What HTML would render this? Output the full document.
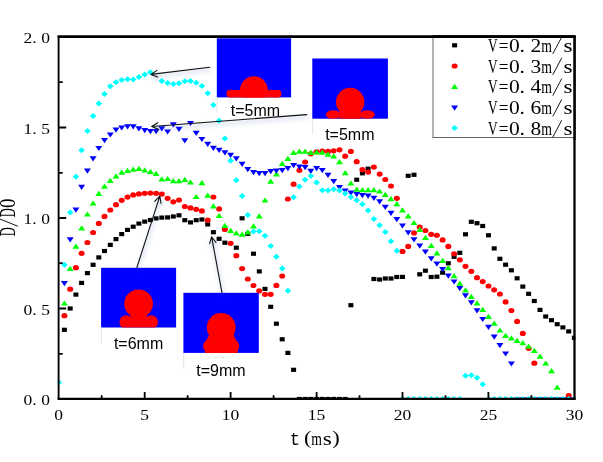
<!DOCTYPE html>
<html><head><meta charset="utf-8"><title>chart</title><style>html,body{margin:0;padding:0;background:#fff}body{width:603px;height:462px;overflow:hidden;position:relative;font-family:"Liberation Serif",serif}</style></head><body>
<svg width="603" height="462" viewBox="0 0 603 462" style="position:absolute;left:0;top:0;display:block">
<rect width="603" height="462" fill="#fff"/>
<defs><filter id="nf" filterUnits="userSpaceOnUse" x="0" y="0" width="603" height="462"><feOffset dx="0" dy="0"/></filter><filter id="sh" filterUnits="userSpaceOnUse" x="0" y="0" width="603" height="462"><feGaussianBlur stdDeviation="1.9"/></filter><clipPath id="cp"><rect x="57.7" y="35.8" width="517.6" height="363.9"/></clipPath></defs>
<g clip-path="url(#cp)">
<rect x="61.9" y="327.7" width="5" height="4.2" fill="#000"/>
<rect x="67.7" y="306.4" width="5" height="4.2" fill="#000"/>
<rect x="73.4" y="292.5" width="5" height="4.2" fill="#000"/>
<rect x="79.1" y="280.8" width="5" height="4.2" fill="#000"/>
<rect x="84.9" y="271.0" width="5" height="4.2" fill="#000"/>
<rect x="90.6" y="262.7" width="5" height="4.2" fill="#000"/>
<rect x="96.3" y="255.3" width="5" height="4.2" fill="#000"/>
<rect x="102.0" y="248.9" width="5" height="4.2" fill="#000"/>
<rect x="107.8" y="242.8" width="5" height="4.2" fill="#000"/>
<rect x="113.5" y="237.0" width="5" height="4.2" fill="#000"/>
<rect x="119.2" y="232.0" width="5" height="4.2" fill="#000"/>
<rect x="125.0" y="227.8" width="5" height="4.2" fill="#000"/>
<rect x="130.7" y="224.6" width="5" height="4.2" fill="#000"/>
<rect x="136.4" y="221.5" width="5" height="4.2" fill="#000"/>
<rect x="142.2" y="219.5" width="5" height="4.2" fill="#000"/>
<rect x="147.9" y="217.9" width="5" height="4.2" fill="#000"/>
<rect x="153.6" y="216.3" width="5" height="4.2" fill="#000"/>
<rect x="159.3" y="215.5" width="5" height="4.2" fill="#000"/>
<rect x="165.1" y="215.3" width="5" height="4.2" fill="#000"/>
<rect x="170.8" y="214.4" width="5" height="4.2" fill="#000"/>
<rect x="176.5" y="213.2" width="5" height="4.2" fill="#000"/>
<rect x="182.3" y="218.1" width="5" height="4.2" fill="#000"/>
<rect x="188.0" y="220.3" width="5" height="4.2" fill="#000"/>
<rect x="193.7" y="218.1" width="5" height="4.2" fill="#000"/>
<rect x="199.4" y="217.4" width="5" height="4.2" fill="#000"/>
<rect x="205.2" y="222.3" width="5" height="4.2" fill="#000"/>
<rect x="210.9" y="230.1" width="5" height="4.2" fill="#000"/>
<rect x="216.6" y="236.7" width="5" height="4.2" fill="#000"/>
<rect x="222.4" y="240.6" width="5" height="4.2" fill="#000"/>
<rect x="233.8" y="245.6" width="5" height="4.2" fill="#000"/>
<rect x="239.6" y="216.2" width="5" height="4.2" fill="#000"/>
<rect x="245.3" y="231.7" width="5" height="4.2" fill="#000"/>
<rect x="251.0" y="251.6" width="5" height="4.2" fill="#000"/>
<rect x="256.8" y="269.3" width="5" height="4.2" fill="#000"/>
<rect x="262.5" y="286.8" width="5" height="4.2" fill="#000"/>
<rect x="268.2" y="304.7" width="5" height="4.2" fill="#000"/>
<rect x="273.9" y="321.6" width="5" height="4.2" fill="#000"/>
<rect x="279.7" y="337.2" width="5" height="4.2" fill="#000"/>
<rect x="285.4" y="350.8" width="5" height="4.2" fill="#000"/>
<rect x="291.1" y="367.7" width="5" height="4.2" fill="#000"/>
<rect x="296.9" y="396.9" width="5" height="4.2" fill="#000"/>
<rect x="302.6" y="396.9" width="5" height="4.2" fill="#000"/>
<rect x="308.3" y="396.9" width="5" height="4.2" fill="#000"/>
<rect x="314.1" y="396.9" width="5" height="4.2" fill="#000"/>
<rect x="319.8" y="396.9" width="5" height="4.2" fill="#000"/>
<rect x="325.5" y="396.9" width="5" height="4.2" fill="#000"/>
<rect x="331.2" y="396.9" width="5" height="4.2" fill="#000"/>
<rect x="337.0" y="396.9" width="5" height="4.2" fill="#000"/>
<rect x="342.7" y="396.9" width="5" height="4.2" fill="#000"/>
<rect x="348.4" y="303.1" width="5" height="4.2" fill="#000"/>
<rect x="354.2" y="177.6" width="5" height="4.2" fill="#000"/>
<rect x="359.9" y="171.2" width="5" height="4.2" fill="#000"/>
<rect x="365.6" y="166.6" width="5" height="4.2" fill="#000"/>
<rect x="371.4" y="276.9" width="5" height="4.2" fill="#000"/>
<rect x="377.1" y="277.4" width="5" height="4.2" fill="#000"/>
<rect x="382.8" y="276.4" width="5" height="4.2" fill="#000"/>
<rect x="388.5" y="276.4" width="5" height="4.2" fill="#000"/>
<rect x="394.3" y="274.9" width="5" height="4.2" fill="#000"/>
<rect x="400.0" y="274.8" width="5" height="4.2" fill="#000"/>
<rect x="405.7" y="173.7" width="5" height="4.2" fill="#000"/>
<rect x="411.5" y="172.7" width="5" height="4.2" fill="#000"/>
<rect x="417.2" y="272.2" width="5" height="4.2" fill="#000"/>
<rect x="422.9" y="268.6" width="5" height="4.2" fill="#000"/>
<rect x="428.7" y="274.9" width="5" height="4.2" fill="#000"/>
<rect x="434.4" y="274.6" width="5" height="4.2" fill="#000"/>
<rect x="440.1" y="270.6" width="5" height="4.2" fill="#000"/>
<rect x="445.8" y="261.2" width="5" height="4.2" fill="#000"/>
<rect x="451.6" y="254.7" width="5" height="4.2" fill="#000"/>
<rect x="457.3" y="250.7" width="5" height="4.2" fill="#000"/>
<rect x="463.0" y="232.2" width="5" height="4.2" fill="#000"/>
<rect x="468.8" y="219.7" width="5" height="4.2" fill="#000"/>
<rect x="474.5" y="221.1" width="5" height="4.2" fill="#000"/>
<rect x="480.2" y="223.9" width="5" height="4.2" fill="#000"/>
<rect x="486.0" y="233.2" width="5" height="4.2" fill="#000"/>
<rect x="491.7" y="246.3" width="5" height="4.2" fill="#000"/>
<rect x="497.4" y="256.7" width="5" height="4.2" fill="#000"/>
<rect x="503.1" y="262.6" width="5" height="4.2" fill="#000"/>
<rect x="508.9" y="268.2" width="5" height="4.2" fill="#000"/>
<rect x="514.6" y="276.2" width="5" height="4.2" fill="#000"/>
<rect x="520.3" y="284.5" width="5" height="4.2" fill="#000"/>
<rect x="526.1" y="291.7" width="5" height="4.2" fill="#000"/>
<rect x="531.8" y="298.9" width="5" height="4.2" fill="#000"/>
<rect x="537.5" y="307.8" width="5" height="4.2" fill="#000"/>
<rect x="543.2" y="314.4" width="5" height="4.2" fill="#000"/>
<rect x="549.0" y="318.1" width="5" height="4.2" fill="#000"/>
<rect x="554.7" y="322.1" width="5" height="4.2" fill="#000"/>
<rect x="560.4" y="325.3" width="5" height="4.2" fill="#000"/>
<rect x="566.2" y="329.3" width="5" height="4.2" fill="#000"/>
<rect x="571.9" y="335.7" width="5" height="4.2" fill="#000"/>
<ellipse cx="64.4" cy="315.7" rx="3" ry="2.6" fill="#f00"/>
<ellipse cx="70.2" cy="289.2" rx="3" ry="2.6" fill="#f00"/>
<ellipse cx="75.9" cy="267.7" rx="3" ry="2.6" fill="#f00"/>
<ellipse cx="81.6" cy="253.4" rx="3" ry="2.6" fill="#f00"/>
<ellipse cx="87.4" cy="242.5" rx="3" ry="2.6" fill="#f00"/>
<ellipse cx="93.1" cy="232.5" rx="3" ry="2.6" fill="#f00"/>
<ellipse cx="98.8" cy="223.4" rx="3" ry="2.6" fill="#f00"/>
<ellipse cx="104.5" cy="216.4" rx="3" ry="2.6" fill="#f00"/>
<ellipse cx="110.3" cy="210.0" rx="3" ry="2.6" fill="#f00"/>
<ellipse cx="116.0" cy="204.7" rx="3" ry="2.6" fill="#f00"/>
<ellipse cx="121.7" cy="200.3" rx="3" ry="2.6" fill="#f00"/>
<ellipse cx="127.5" cy="197.1" rx="3" ry="2.6" fill="#f00"/>
<ellipse cx="133.2" cy="194.9" rx="3" ry="2.6" fill="#f00"/>
<ellipse cx="138.9" cy="193.9" rx="3" ry="2.6" fill="#f00"/>
<ellipse cx="144.7" cy="193.3" rx="3" ry="2.6" fill="#f00"/>
<ellipse cx="150.4" cy="193.1" rx="3" ry="2.6" fill="#f00"/>
<ellipse cx="156.1" cy="193.3" rx="3" ry="2.6" fill="#f00"/>
<ellipse cx="161.8" cy="194.1" rx="3" ry="2.6" fill="#f00"/>
<ellipse cx="167.6" cy="198.3" rx="3" ry="2.6" fill="#f00"/>
<ellipse cx="173.3" cy="201.8" rx="3" ry="2.6" fill="#f00"/>
<ellipse cx="179.0" cy="200.0" rx="3" ry="2.6" fill="#f00"/>
<ellipse cx="184.8" cy="206.5" rx="3" ry="2.6" fill="#f00"/>
<ellipse cx="190.5" cy="207.9" rx="3" ry="2.6" fill="#f00"/>
<ellipse cx="196.2" cy="209.3" rx="3" ry="2.6" fill="#f00"/>
<ellipse cx="201.9" cy="210.9" rx="3" ry="2.6" fill="#f00"/>
<ellipse cx="207.7" cy="220.2" rx="3" ry="2.6" fill="#f00"/>
<ellipse cx="213.4" cy="197.0" rx="3" ry="2.6" fill="#f00"/>
<ellipse cx="219.1" cy="208.9" rx="3" ry="2.6" fill="#f00"/>
<ellipse cx="224.9" cy="229.4" rx="3" ry="2.6" fill="#f00"/>
<ellipse cx="230.6" cy="243.3" rx="3" ry="2.6" fill="#f00"/>
<ellipse cx="236.3" cy="255.7" rx="3" ry="2.6" fill="#f00"/>
<ellipse cx="242.1" cy="268.6" rx="3" ry="2.6" fill="#f00"/>
<ellipse cx="247.8" cy="279.0" rx="3" ry="2.6" fill="#f00"/>
<ellipse cx="253.5" cy="285.5" rx="3" ry="2.6" fill="#f00"/>
<ellipse cx="259.2" cy="290.9" rx="3" ry="2.6" fill="#f00"/>
<ellipse cx="265.0" cy="294.3" rx="3" ry="2.6" fill="#f00"/>
<ellipse cx="270.7" cy="294.3" rx="3" ry="2.6" fill="#f00"/>
<ellipse cx="276.4" cy="285.4" rx="3" ry="2.6" fill="#f00"/>
<ellipse cx="282.2" cy="276.0" rx="3" ry="2.6" fill="#f00"/>
<ellipse cx="287.9" cy="199.0" rx="3" ry="2.6" fill="#f00"/>
<ellipse cx="293.6" cy="184.2" rx="3" ry="2.6" fill="#f00"/>
<ellipse cx="299.4" cy="170.3" rx="3" ry="2.6" fill="#f00"/>
<ellipse cx="305.1" cy="162.1" rx="3" ry="2.6" fill="#f00"/>
<ellipse cx="310.8" cy="153.8" rx="3" ry="2.6" fill="#f00"/>
<ellipse cx="316.6" cy="151.8" rx="3" ry="2.6" fill="#f00"/>
<ellipse cx="322.3" cy="151.0" rx="3" ry="2.6" fill="#f00"/>
<ellipse cx="328.0" cy="151.4" rx="3" ry="2.6" fill="#f00"/>
<ellipse cx="333.7" cy="150.8" rx="3" ry="2.6" fill="#f00"/>
<ellipse cx="339.5" cy="149.8" rx="3" ry="2.6" fill="#f00"/>
<ellipse cx="345.2" cy="156.2" rx="3" ry="2.6" fill="#f00"/>
<ellipse cx="350.9" cy="151.4" rx="3" ry="2.6" fill="#f00"/>
<ellipse cx="356.7" cy="161.7" rx="3" ry="2.6" fill="#f00"/>
<ellipse cx="362.4" cy="169.7" rx="3" ry="2.6" fill="#f00"/>
<ellipse cx="368.1" cy="172.1" rx="3" ry="2.6" fill="#f00"/>
<ellipse cx="373.9" cy="167.1" rx="3" ry="2.6" fill="#f00"/>
<ellipse cx="379.6" cy="174.1" rx="3" ry="2.6" fill="#f00"/>
<ellipse cx="385.3" cy="179.5" rx="3" ry="2.6" fill="#f00"/>
<ellipse cx="391.0" cy="186.0" rx="3" ry="2.6" fill="#f00"/>
<ellipse cx="396.8" cy="198.3" rx="3" ry="2.6" fill="#f00"/>
<ellipse cx="402.5" cy="251.4" rx="3" ry="2.6" fill="#f00"/>
<ellipse cx="408.2" cy="246.4" rx="3" ry="2.6" fill="#f00"/>
<ellipse cx="414.0" cy="232.9" rx="3" ry="2.6" fill="#f00"/>
<ellipse cx="419.7" cy="227.2" rx="3" ry="2.6" fill="#f00"/>
<ellipse cx="425.4" cy="230.5" rx="3" ry="2.6" fill="#f00"/>
<ellipse cx="431.2" cy="234.3" rx="3" ry="2.6" fill="#f00"/>
<ellipse cx="436.9" cy="235.3" rx="3" ry="2.6" fill="#f00"/>
<ellipse cx="442.6" cy="239.9" rx="3" ry="2.6" fill="#f00"/>
<ellipse cx="448.3" cy="246.4" rx="3" ry="2.6" fill="#f00"/>
<ellipse cx="454.1" cy="253.8" rx="3" ry="2.6" fill="#f00"/>
<ellipse cx="459.8" cy="259.8" rx="3" ry="2.6" fill="#f00"/>
<ellipse cx="465.5" cy="266.3" rx="3" ry="2.6" fill="#f00"/>
<ellipse cx="471.3" cy="271.3" rx="3" ry="2.6" fill="#f00"/>
<ellipse cx="477.0" cy="277.7" rx="3" ry="2.6" fill="#f00"/>
<ellipse cx="482.7" cy="281.6" rx="3" ry="2.6" fill="#f00"/>
<ellipse cx="488.5" cy="286.0" rx="3" ry="2.6" fill="#f00"/>
<ellipse cx="494.2" cy="289.8" rx="3" ry="2.6" fill="#f00"/>
<ellipse cx="499.9" cy="294.0" rx="3" ry="2.6" fill="#f00"/>
<ellipse cx="505.6" cy="301.9" rx="3" ry="2.6" fill="#f00"/>
<ellipse cx="511.4" cy="310.5" rx="3" ry="2.6" fill="#f00"/>
<ellipse cx="517.1" cy="321.4" rx="3" ry="2.6" fill="#f00"/>
<ellipse cx="522.8" cy="333.4" rx="3" ry="2.6" fill="#f00"/>
<ellipse cx="528.6" cy="348.3" rx="3" ry="2.6" fill="#f00"/>
<ellipse cx="534.3" cy="363.2" rx="3" ry="2.6" fill="#f00"/>
<ellipse cx="568.7" cy="395.7" rx="3" ry="2.6" fill="#f00"/>
<path d="M60.9 305.6L67.9 305.6L64.4 300.4Z" fill="#0f0"/>
<path d="M66.7 270.9L73.7 270.9L70.2 265.7Z" fill="#0f0"/>
<path d="M72.4 248.8L79.4 248.8L75.9 243.6Z" fill="#0f0"/>
<path d="M78.1 230.5L85.1 230.5L81.6 225.3Z" fill="#0f0"/>
<path d="M83.9 216.6L90.9 216.6L87.4 211.4Z" fill="#0f0"/>
<path d="M89.6 205.6L96.6 205.6L93.1 200.4Z" fill="#0f0"/>
<path d="M95.3 195.9L102.3 195.9L98.8 190.7Z" fill="#0f0"/>
<path d="M101.0 188.7L108.0 188.7L104.5 183.5Z" fill="#0f0"/>
<path d="M106.8 183.0L113.8 183.0L110.3 177.8Z" fill="#0f0"/>
<path d="M112.5 178.4L119.5 178.4L116.0 173.2Z" fill="#0f0"/>
<path d="M118.2 174.8L125.2 174.8L121.7 169.6Z" fill="#0f0"/>
<path d="M124.0 173.0L131.0 173.0L127.5 167.8Z" fill="#0f0"/>
<path d="M129.7 171.8L136.7 171.8L133.2 166.6Z" fill="#0f0"/>
<path d="M135.4 171.0L142.4 171.0L138.9 165.8Z" fill="#0f0"/>
<path d="M141.2 172.4L148.2 172.4L144.7 167.2Z" fill="#0f0"/>
<path d="M146.9 174.0L153.9 174.0L150.4 168.8Z" fill="#0f0"/>
<path d="M152.6 176.0L159.6 176.0L156.1 170.8Z" fill="#0f0"/>
<path d="M158.3 181.4L165.3 181.4L161.8 176.2Z" fill="#0f0"/>
<path d="M164.1 181.1L171.1 181.1L167.6 175.9Z" fill="#0f0"/>
<path d="M169.8 183.3L176.8 183.3L173.3 178.1Z" fill="#0f0"/>
<path d="M175.5 183.2L182.5 183.2L179.0 178.0Z" fill="#0f0"/>
<path d="M181.3 181.9L188.3 181.9L184.8 176.7Z" fill="#0f0"/>
<path d="M187.0 184.6L194.0 184.6L190.5 179.4Z" fill="#0f0"/>
<path d="M192.7 199.1L199.7 199.1L196.2 193.9Z" fill="#0f0"/>
<path d="M198.4 185.2L205.4 185.2L201.9 180.0Z" fill="#0f0"/>
<path d="M204.2 197.7L211.2 197.7L207.7 192.5Z" fill="#0f0"/>
<path d="M209.9 208.5L216.9 208.5L213.4 203.3Z" fill="#0f0"/>
<path d="M215.6 218.1L222.6 218.1L219.1 212.9Z" fill="#0f0"/>
<path d="M221.4 228.0L228.4 228.0L224.9 222.8Z" fill="#0f0"/>
<path d="M227.1 233.0L234.1 233.0L230.6 227.8Z" fill="#0f0"/>
<path d="M232.8 235.4L239.8 235.4L236.3 230.2Z" fill="#0f0"/>
<path d="M238.6 236.8L245.6 236.8L242.1 231.6Z" fill="#0f0"/>
<path d="M244.3 234.4L251.3 234.4L247.8 229.2Z" fill="#0f0"/>
<path d="M250.0 228.4L257.0 228.4L253.5 223.2Z" fill="#0f0"/>
<path d="M255.8 218.5L262.8 218.5L259.2 213.3Z" fill="#0f0"/>
<path d="M261.5 202.6L268.5 202.6L265.0 197.4Z" fill="#0f0"/>
<path d="M267.2 183.8L274.2 183.8L270.7 178.6Z" fill="#0f0"/>
<path d="M272.9 176.4L279.9 176.4L276.4 171.2Z" fill="#0f0"/>
<path d="M278.7 165.9L285.7 165.9L282.2 160.7Z" fill="#0f0"/>
<path d="M284.4 161.0L291.4 161.0L287.9 155.8Z" fill="#0f0"/>
<path d="M290.1 155.0L297.1 155.0L293.6 149.8Z" fill="#0f0"/>
<path d="M295.9 153.8L302.9 153.8L299.4 148.6Z" fill="#0f0"/>
<path d="M301.6 153.8L308.6 153.8L305.1 148.6Z" fill="#0f0"/>
<path d="M307.3 155.0L314.3 155.0L310.8 149.8Z" fill="#0f0"/>
<path d="M313.1 154.4L320.1 154.4L316.6 149.2Z" fill="#0f0"/>
<path d="M318.8 154.8L325.8 154.8L322.3 149.6Z" fill="#0f0"/>
<path d="M324.5 156.8L331.5 156.8L328.0 151.6Z" fill="#0f0"/>
<path d="M330.2 158.4L337.2 158.4L333.7 153.2Z" fill="#0f0"/>
<path d="M336.0 164.3L343.0 164.3L339.5 159.1Z" fill="#0f0"/>
<path d="M341.7 175.3L348.7 175.3L345.2 170.1Z" fill="#0f0"/>
<path d="M347.4 185.6L354.4 185.6L350.9 180.4Z" fill="#0f0"/>
<path d="M353.2 191.8L360.2 191.8L356.7 186.6Z" fill="#0f0"/>
<path d="M358.9 192.2L365.9 192.2L362.4 187.0Z" fill="#0f0"/>
<path d="M364.6 192.2L371.6 192.2L368.1 187.0Z" fill="#0f0"/>
<path d="M370.4 192.2L377.4 192.2L373.9 187.0Z" fill="#0f0"/>
<path d="M376.1 193.6L383.1 193.6L379.6 188.4Z" fill="#0f0"/>
<path d="M381.8 197.0L388.8 197.0L385.3 191.8Z" fill="#0f0"/>
<path d="M387.5 201.3L394.5 201.3L391.0 196.1Z" fill="#0f0"/>
<path d="M393.3 206.3L400.3 206.3L396.8 201.1Z" fill="#0f0"/>
<path d="M399.0 212.4L406.0 212.4L402.5 207.2Z" fill="#0f0"/>
<path d="M404.7 218.4L411.7 218.4L408.2 213.2Z" fill="#0f0"/>
<path d="M410.5 225.1L417.5 225.1L414.0 219.9Z" fill="#0f0"/>
<path d="M416.2 231.9L423.2 231.9L419.7 226.7Z" fill="#0f0"/>
<path d="M421.9 239.9L428.9 239.9L425.4 234.7Z" fill="#0f0"/>
<path d="M427.7 248.0L434.7 248.0L431.2 242.8Z" fill="#0f0"/>
<path d="M433.4 255.4L440.4 255.4L436.9 250.2Z" fill="#0f0"/>
<path d="M439.1 262.9L446.1 262.9L442.6 257.7Z" fill="#0f0"/>
<path d="M444.8 270.3L451.8 270.3L448.3 265.1Z" fill="#0f0"/>
<path d="M450.6 278.3L457.6 278.3L454.1 273.1Z" fill="#0f0"/>
<path d="M456.3 285.8L463.3 285.8L459.8 280.6Z" fill="#0f0"/>
<path d="M462.0 292.4L469.0 292.4L465.5 287.2Z" fill="#0f0"/>
<path d="M467.8 299.0L474.8 299.0L471.3 293.8Z" fill="#0f0"/>
<path d="M473.5 305.5L480.5 305.5L477.0 300.3Z" fill="#0f0"/>
<path d="M479.2 311.9L486.2 311.9L482.7 306.7Z" fill="#0f0"/>
<path d="M485.0 318.9L492.0 318.9L488.5 313.7Z" fill="#0f0"/>
<path d="M490.7 325.8L497.7 325.8L494.2 320.6Z" fill="#0f0"/>
<path d="M496.4 332.6L503.4 332.6L499.9 327.4Z" fill="#0f0"/>
<path d="M502.1 338.0L509.1 338.0L505.6 332.8Z" fill="#0f0"/>
<path d="M507.9 340.4L514.9 340.4L511.4 335.2Z" fill="#0f0"/>
<path d="M513.6 342.9L520.6 342.9L517.1 337.7Z" fill="#0f0"/>
<path d="M519.3 345.3L526.3 345.3L522.8 340.1Z" fill="#0f0"/>
<path d="M525.1 348.7L532.1 348.7L528.6 343.5Z" fill="#0f0"/>
<path d="M530.8 352.9L537.8 352.9L534.3 347.7Z" fill="#0f0"/>
<path d="M536.5 358.7L543.5 358.7L540.0 353.5Z" fill="#0f0"/>
<path d="M542.2 365.6L549.2 365.6L545.8 360.4Z" fill="#0f0"/>
<path d="M548.0 373.2L555.0 373.2L551.5 368.0Z" fill="#0f0"/>
<path d="M553.7 389.8L560.7 389.8L557.2 384.6Z" fill="#0f0"/>
<path d="M559.4 401.6L566.4 401.6L562.9 396.4Z" fill="#0f0"/>
<path d="M565.2 401.6L572.2 401.6L568.7 396.4Z" fill="#0f0"/>
<path d="M570.9 401.6L577.9 401.6L574.4 396.4Z" fill="#0f0"/>
<path d="M60.9 281.1L67.9 281.1L64.4 286.3Z" fill="#00f"/>
<path d="M66.7 237.3L73.7 237.3L70.2 242.5Z" fill="#00f"/>
<path d="M72.4 207.6L79.4 207.6L75.9 212.8Z" fill="#00f"/>
<path d="M78.1 184.7L85.1 184.7L81.6 189.9Z" fill="#00f"/>
<path d="M83.9 168.6L90.9 168.6L87.4 173.8Z" fill="#00f"/>
<path d="M89.6 156.3L96.6 156.3L93.1 161.5Z" fill="#00f"/>
<path d="M95.3 145.9L102.3 145.9L98.8 151.1Z" fill="#00f"/>
<path d="M101.0 138.0L108.0 138.0L104.5 143.2Z" fill="#00f"/>
<path d="M106.8 132.4L113.8 132.4L110.3 137.6Z" fill="#00f"/>
<path d="M112.5 127.6L119.5 127.6L116.0 132.8Z" fill="#00f"/>
<path d="M118.2 125.4L125.2 125.4L121.7 130.6Z" fill="#00f"/>
<path d="M124.0 124.2L131.0 124.2L127.5 129.4Z" fill="#00f"/>
<path d="M129.7 124.2L136.7 124.2L133.2 129.4Z" fill="#00f"/>
<path d="M135.4 126.2L142.4 126.2L138.9 131.4Z" fill="#00f"/>
<path d="M141.2 128.0L148.2 128.0L144.7 133.2Z" fill="#00f"/>
<path d="M146.9 129.0L153.9 129.0L150.4 134.2Z" fill="#00f"/>
<path d="M152.6 129.0L159.6 129.0L156.1 134.2Z" fill="#00f"/>
<path d="M158.3 126.2L165.3 126.2L161.8 131.4Z" fill="#00f"/>
<path d="M164.1 129.4L171.1 129.4L167.6 134.6Z" fill="#00f"/>
<path d="M169.8 122.2L176.8 122.2L173.3 127.4Z" fill="#00f"/>
<path d="M175.5 126.7L182.5 126.7L179.0 131.9Z" fill="#00f"/>
<path d="M181.3 138.2L188.3 138.2L184.8 143.4Z" fill="#00f"/>
<path d="M187.0 120.9L194.0 120.9L190.5 126.1Z" fill="#00f"/>
<path d="M192.7 130.7L199.7 130.7L196.2 135.9Z" fill="#00f"/>
<path d="M198.4 136.9L205.4 136.9L201.9 142.1Z" fill="#00f"/>
<path d="M204.2 141.8L211.2 141.8L207.7 147.0Z" fill="#00f"/>
<path d="M209.9 145.8L216.9 145.8L213.4 151.0Z" fill="#00f"/>
<path d="M215.6 147.8L222.6 147.8L219.1 153.0Z" fill="#00f"/>
<path d="M221.4 150.2L228.4 150.2L224.9 155.4Z" fill="#00f"/>
<path d="M227.1 152.8L234.1 152.8L230.6 158.0Z" fill="#00f"/>
<path d="M232.8 156.2L239.8 156.2L236.3 161.4Z" fill="#00f"/>
<path d="M238.6 161.7L245.6 161.7L242.1 166.9Z" fill="#00f"/>
<path d="M244.3 167.1L251.3 167.1L247.8 172.3Z" fill="#00f"/>
<path d="M250.0 170.1L257.0 170.1L253.5 175.3Z" fill="#00f"/>
<path d="M255.8 171.1L262.8 171.1L259.2 176.3Z" fill="#00f"/>
<path d="M261.5 171.1L268.5 171.1L265.0 176.3Z" fill="#00f"/>
<path d="M267.2 169.1L274.2 169.1L270.7 174.3Z" fill="#00f"/>
<path d="M272.9 168.5L279.9 168.5L276.4 173.7Z" fill="#00f"/>
<path d="M278.7 168.1L285.7 168.1L282.2 173.3Z" fill="#00f"/>
<path d="M284.4 166.1L291.4 166.1L287.9 171.3Z" fill="#00f"/>
<path d="M290.1 163.1L297.1 163.1L293.6 168.3Z" fill="#00f"/>
<path d="M295.9 164.5L302.9 164.5L299.4 169.7Z" fill="#00f"/>
<path d="M301.6 165.1L308.6 165.1L305.1 170.3Z" fill="#00f"/>
<path d="M307.3 168.7L314.3 168.7L310.8 173.9Z" fill="#00f"/>
<path d="M313.1 166.1L320.1 166.1L316.6 171.3Z" fill="#00f"/>
<path d="M318.8 168.1L325.8 168.1L322.3 173.3Z" fill="#00f"/>
<path d="M324.5 172.7L331.5 172.7L328.0 177.9Z" fill="#00f"/>
<path d="M330.2 179.0L337.2 179.0L333.7 184.2Z" fill="#00f"/>
<path d="M336.0 185.0L343.0 185.0L339.5 190.2Z" fill="#00f"/>
<path d="M341.7 188.4L348.7 188.4L345.2 193.6Z" fill="#00f"/>
<path d="M347.4 190.6L354.4 190.6L350.9 195.8Z" fill="#00f"/>
<path d="M353.2 192.0L360.2 192.0L356.7 197.2Z" fill="#00f"/>
<path d="M358.9 193.0L365.9 193.0L362.4 198.2Z" fill="#00f"/>
<path d="M364.6 193.6L371.6 193.6L368.1 198.8Z" fill="#00f"/>
<path d="M370.4 195.7L377.4 195.7L373.9 200.9Z" fill="#00f"/>
<path d="M376.1 199.3L383.1 199.3L379.6 204.5Z" fill="#00f"/>
<path d="M381.8 204.7L388.8 204.7L385.3 209.9Z" fill="#00f"/>
<path d="M387.5 210.7L394.5 210.7L391.0 215.9Z" fill="#00f"/>
<path d="M393.3 217.1L400.3 217.1L396.8 222.3Z" fill="#00f"/>
<path d="M399.0 223.4L406.0 223.4L402.5 228.6Z" fill="#00f"/>
<path d="M404.7 230.3L411.7 230.3L408.2 235.5Z" fill="#00f"/>
<path d="M410.5 237.3L417.5 237.3L414.0 242.5Z" fill="#00f"/>
<path d="M416.2 243.6L423.2 243.6L419.7 248.8Z" fill="#00f"/>
<path d="M421.9 249.6L428.9 249.6L425.4 254.8Z" fill="#00f"/>
<path d="M427.7 256.2L434.7 256.2L431.2 261.4Z" fill="#00f"/>
<path d="M433.4 261.5L440.4 261.5L436.9 266.7Z" fill="#00f"/>
<path d="M439.1 267.1L446.1 267.1L442.6 272.3Z" fill="#00f"/>
<path d="M444.8 273.5L451.8 273.5L448.3 278.7Z" fill="#00f"/>
<path d="M450.6 279.4L457.6 279.4L454.1 284.6Z" fill="#00f"/>
<path d="M456.3 286.0L463.3 286.0L459.8 291.2Z" fill="#00f"/>
<path d="M462.0 293.2L469.0 293.2L465.5 298.4Z" fill="#00f"/>
<path d="M467.8 300.3L474.8 300.3L471.3 305.5Z" fill="#00f"/>
<path d="M473.5 308.3L480.5 308.3L477.0 313.5Z" fill="#00f"/>
<path d="M479.2 316.9L486.2 316.9L482.7 322.1Z" fill="#00f"/>
<path d="M485.0 324.8L492.0 324.8L488.5 330.0Z" fill="#00f"/>
<path d="M490.7 334.6L497.7 334.6L494.2 339.8Z" fill="#00f"/>
<path d="M496.4 343.1L503.4 343.1L499.9 348.3Z" fill="#00f"/>
<path d="M502.1 351.4L509.1 351.4L505.6 356.6Z" fill="#00f"/>
<path d="M507.9 361.4L514.9 361.4L511.4 366.6Z" fill="#00f"/>
<path d="M513.6 397.4L520.6 397.4L517.1 402.6Z" fill="#00f"/>
<path d="M519.3 397.4L526.3 397.4L522.8 402.6Z" fill="#00f"/>
<path d="M525.1 397.4L532.1 397.4L528.6 402.6Z" fill="#00f"/>
<path d="M530.8 397.4L537.8 397.4L534.3 402.6Z" fill="#00f"/>
<path d="M536.5 397.4L543.5 397.4L540.0 402.6Z" fill="#00f"/>
<path d="M542.2 397.4L549.2 397.4L545.8 402.6Z" fill="#00f"/>
<path d="M548.0 397.4L555.0 397.4L551.5 402.6Z" fill="#00f"/>
<path d="M553.7 397.4L560.7 397.4L557.2 402.6Z" fill="#00f"/>
<path d="M559.4 397.4L566.4 397.4L562.9 402.6Z" fill="#00f"/>
<path d="M565.2 397.4L572.2 397.4L568.7 402.6Z" fill="#00f"/>
<path d="M570.9 397.4L577.9 397.4L574.4 402.6Z" fill="#00f"/>
<path d="M55.4 382.6L58.7 379.6L62.0 382.6L58.7 385.6Z" fill="#0ff"/>
<path d="M61.1 264.8L64.4 261.8L67.7 264.8L64.4 267.8Z" fill="#0ff"/>
<path d="M66.9 212.6L70.2 209.6L73.5 212.6L70.2 215.6Z" fill="#0ff"/>
<path d="M72.6 176.8L75.9 173.8L79.2 176.8L75.9 179.8Z" fill="#0ff"/>
<path d="M78.3 150.3L81.6 147.3L84.9 150.3L81.6 153.3Z" fill="#0ff"/>
<path d="M84.1 131.0L87.4 128.0L90.7 131.0L87.4 134.0Z" fill="#0ff"/>
<path d="M89.8 116.0L93.1 113.0L96.4 116.0L93.1 119.0Z" fill="#0ff"/>
<path d="M95.5 103.4L98.8 100.4L102.1 103.4L98.8 106.4Z" fill="#0ff"/>
<path d="M101.2 94.0L104.5 91.0L107.8 94.0L104.5 97.0Z" fill="#0ff"/>
<path d="M107.0 86.2L110.3 83.2L113.6 86.2L110.3 89.2Z" fill="#0ff"/>
<path d="M112.7 82.3L116.0 79.3L119.3 82.3L116.0 85.3Z" fill="#0ff"/>
<path d="M118.4 79.9L121.7 76.9L125.0 79.9L121.7 82.9Z" fill="#0ff"/>
<path d="M124.2 79.3L127.5 76.3L130.8 79.3L127.5 82.3Z" fill="#0ff"/>
<path d="M129.9 79.5L133.2 76.5L136.5 79.5L133.2 82.5Z" fill="#0ff"/>
<path d="M135.6 77.1L138.9 74.1L142.2 77.1L138.9 80.1Z" fill="#0ff"/>
<path d="M141.3 74.5L144.7 71.5L148.0 74.5L144.7 77.5Z" fill="#0ff"/>
<path d="M147.1 72.3L150.4 69.3L153.7 72.3L150.4 75.3Z" fill="#0ff"/>
<path d="M158.5 80.9L161.8 77.9L165.1 80.9L161.8 83.9Z" fill="#0ff"/>
<path d="M164.3 83.0L167.6 80.0L170.9 83.0L167.6 86.0Z" fill="#0ff"/>
<path d="M170.0 84.0L173.3 81.0L176.6 84.0L173.3 87.0Z" fill="#0ff"/>
<path d="M175.7 83.3L179.0 80.3L182.3 83.3L179.0 86.3Z" fill="#0ff"/>
<path d="M181.5 81.3L184.8 78.3L188.1 81.3L184.8 84.3Z" fill="#0ff"/>
<path d="M187.2 81.1L190.5 78.1L193.8 81.1L190.5 84.1Z" fill="#0ff"/>
<path d="M192.9 82.7L196.2 79.7L199.5 82.7L196.2 85.7Z" fill="#0ff"/>
<path d="M198.6 86.1L201.9 83.1L205.2 86.1L201.9 89.1Z" fill="#0ff"/>
<path d="M204.4 93.3L207.7 90.3L211.0 93.3L207.7 96.3Z" fill="#0ff"/>
<path d="M210.1 105.0L213.4 102.0L216.7 105.0L213.4 108.0Z" fill="#0ff"/>
<path d="M215.8 120.7L219.1 117.7L222.4 120.7L219.1 123.7Z" fill="#0ff"/>
<path d="M221.6 138.5L224.9 135.5L228.2 138.5L224.9 141.5Z" fill="#0ff"/>
<path d="M227.3 160.7L230.6 157.7L233.9 160.7L230.6 163.7Z" fill="#0ff"/>
<path d="M233.0 180.2L236.3 177.2L239.6 180.2L236.3 183.2Z" fill="#0ff"/>
<path d="M238.8 196.1L242.1 193.1L245.4 196.1L242.1 199.1Z" fill="#0ff"/>
<path d="M244.5 214.9L247.8 211.9L251.1 214.9L247.8 217.9Z" fill="#0ff"/>
<path d="M250.2 231.4L253.5 228.4L256.8 231.4L253.5 234.4Z" fill="#0ff"/>
<path d="M255.9 231.2L259.2 228.2L262.6 231.2L259.2 234.2Z" fill="#0ff"/>
<path d="M261.7 235.8L265.0 232.8L268.3 235.8L265.0 238.8Z" fill="#0ff"/>
<path d="M267.4 246.1L270.7 243.1L274.0 246.1L270.7 249.1Z" fill="#0ff"/>
<path d="M273.1 256.7L276.4 253.7L279.7 256.7L276.4 259.7Z" fill="#0ff"/>
<path d="M278.9 268.6L282.2 265.6L285.5 268.6L282.2 271.6Z" fill="#0ff"/>
<path d="M284.6 290.8L287.9 287.8L291.2 290.8L287.9 293.8Z" fill="#0ff"/>
<path d="M290.3 197.3L293.6 194.3L296.9 197.3L293.6 200.3Z" fill="#0ff"/>
<path d="M296.1 186.6L299.4 183.6L302.7 186.6L299.4 189.6Z" fill="#0ff"/>
<path d="M301.8 179.7L305.1 176.7L308.4 179.7L305.1 182.7Z" fill="#0ff"/>
<path d="M307.5 176.1L310.8 173.1L314.1 176.1L310.8 179.1Z" fill="#0ff"/>
<path d="M313.2 182.6L316.6 179.6L319.9 182.6L316.6 185.6Z" fill="#0ff"/>
<path d="M319.0 190.2L322.3 187.2L325.6 190.2L322.3 193.2Z" fill="#0ff"/>
<path d="M324.7 190.6L328.0 187.6L331.3 190.6L328.0 193.6Z" fill="#0ff"/>
<path d="M330.4 189.2L333.7 186.2L337.0 189.2L333.7 192.2Z" fill="#0ff"/>
<path d="M336.2 190.6L339.5 187.6L342.8 190.6L339.5 193.6Z" fill="#0ff"/>
<path d="M341.9 193.6L345.2 190.6L348.5 193.6L345.2 196.6Z" fill="#0ff"/>
<path d="M347.6 197.0L350.9 194.0L354.2 197.0L350.9 200.0Z" fill="#0ff"/>
<path d="M353.4 200.3L356.7 197.3L360.0 200.3L356.7 203.3Z" fill="#0ff"/>
<path d="M359.1 204.3L362.4 201.3L365.7 204.3L362.4 207.3Z" fill="#0ff"/>
<path d="M364.8 210.5L368.1 207.5L371.4 210.5L368.1 213.5Z" fill="#0ff"/>
<path d="M370.6 218.9L373.9 215.9L377.2 218.9L373.9 221.9Z" fill="#0ff"/>
<path d="M376.3 225.2L379.6 222.2L382.9 225.2L379.6 228.2Z" fill="#0ff"/>
<path d="M382.0 232.0L385.3 229.0L388.6 232.0L385.3 235.0Z" fill="#0ff"/>
<path d="M387.7 241.2L391.0 238.2L394.3 241.2L391.0 244.2Z" fill="#0ff"/>
<path d="M393.5 250.8L396.8 247.8L400.1 250.8L396.8 253.8Z" fill="#0ff"/>
<path d="M399.2 398.9L402.5 395.9L405.8 398.9L402.5 401.9Z" fill="#0ff"/>
<path d="M404.9 398.9L408.2 395.9L411.5 398.9L408.2 401.9Z" fill="#0ff"/>
<path d="M410.7 398.9L414.0 395.9L417.3 398.9L414.0 401.9Z" fill="#0ff"/>
<path d="M416.4 398.9L419.7 395.9L423.0 398.9L419.7 401.9Z" fill="#0ff"/>
<path d="M422.1 398.9L425.4 395.9L428.7 398.9L425.4 401.9Z" fill="#0ff"/>
<path d="M427.9 398.9L431.2 395.9L434.5 398.9L431.2 401.9Z" fill="#0ff"/>
<path d="M433.6 398.9L436.9 395.9L440.2 398.9L436.9 401.9Z" fill="#0ff"/>
<path d="M439.3 398.9L442.6 395.9L445.9 398.9L442.6 401.9Z" fill="#0ff"/>
<path d="M445.0 398.9L448.3 395.9L451.6 398.9L448.3 401.9Z" fill="#0ff"/>
<path d="M450.8 398.9L454.1 395.9L457.4 398.9L454.1 401.9Z" fill="#0ff"/>
<path d="M456.5 398.9L459.8 395.9L463.1 398.9L459.8 401.9Z" fill="#0ff"/>
<path d="M462.2 375.7L465.5 372.7L468.8 375.7L465.5 378.7Z" fill="#0ff"/>
<path d="M468.0 375.3L471.3 372.3L474.6 375.3L471.3 378.3Z" fill="#0ff"/>
<path d="M473.7 377.8L477.0 374.8L480.3 377.8L477.0 380.8Z" fill="#0ff"/>
<path d="M479.4 384.2L482.7 381.2L486.0 384.2L482.7 387.2Z" fill="#0ff"/>
<path d="M485.2 398.9L488.5 395.9L491.8 398.9L488.5 401.9Z" fill="#0ff"/>
<path d="M490.9 398.9L494.2 395.9L497.5 398.9L494.2 401.9Z" fill="#0ff"/>
<path d="M496.6 398.9L499.9 395.9L503.2 398.9L499.9 401.9Z" fill="#0ff"/>
<path d="M502.3 398.9L505.6 395.9L508.9 398.9L505.6 401.9Z" fill="#0ff"/>
<path d="M508.1 398.9L511.4 395.9L514.7 398.9L511.4 401.9Z" fill="#0ff"/>
<path d="M513.8 398.9L517.1 395.9L520.4 398.9L517.1 401.9Z" fill="#0ff"/>
<path d="M519.5 398.9L522.8 395.9L526.1 398.9L522.8 401.9Z" fill="#0ff"/>
<path d="M525.3 398.9L528.6 395.9L531.9 398.9L528.6 401.9Z" fill="#0ff"/>
<path d="M531.0 398.9L534.3 395.9L537.6 398.9L534.3 401.9Z" fill="#0ff"/>
<path d="M536.7 398.9L540.0 395.9L543.3 398.9L540.0 401.9Z" fill="#0ff"/>
<path d="M542.5 398.9L545.8 395.9L549.0 398.9L545.8 401.9Z" fill="#0ff"/>
<path d="M548.2 398.9L551.5 395.9L554.8 398.9L551.5 401.9Z" fill="#0ff"/>
<path d="M553.9 398.9L557.2 395.9L560.5 398.9L557.2 401.9Z" fill="#0ff"/>
<path d="M559.6 398.9L562.9 395.9L566.2 398.9L562.9 401.9Z" fill="#0ff"/>
<path d="M565.4 398.9L568.7 395.9L572.0 398.9L568.7 401.9Z" fill="#0ff"/>
<path d="M571.1 398.9L574.4 395.9L577.7 398.9L574.4 401.9Z" fill="#0ff"/>
</g>
<rect x="101.1" y="267.8" width="75.0" height="59.7" fill="#0000fe"/>
<clipPath id="c101"><rect x="101.1" y="267.8" width="75.0" height="59.7"/></clipPath>
<g clip-path="url(#c101)" fill="#fe0000"><circle cx="138.6" cy="303.7" r="14.3"/><circle cx="126.2" cy="322" r="6.8"/><circle cx="151.2" cy="322" r="6.8"/><rect x="130.5" y="312" width="16.4" height="16"/></g>
<rect x="183.4" y="292.8" width="75.4" height="60.1" fill="#0000fe"/>
<clipPath id="c183"><rect x="183.4" y="292.8" width="75.4" height="60.1"/></clipPath>
<g clip-path="url(#c183)" fill="#fe0000"><circle cx="221.2" cy="327.5" r="14.4"/><circle cx="210.2" cy="346.3" r="7"/><circle cx="232.2" cy="346.3" r="7"/><path d="M209.6 334L233.1 334L236.1 340L237.5 343L237.5 353L205 353L205 343L206.5 340Z"/></g>
<rect x="216.8" y="38.3" width="74.3" height="59.1" fill="#0000fe"/>
<clipPath id="c216"><rect x="216.8" y="38.3" width="74.3" height="59.1"/></clipPath>
<g clip-path="url(#c216)" fill="#fe0000"><circle cx="253.9" cy="90.3" r="14"/><circle cx="230.5" cy="93.8" r="4.1"/><circle cx="277.3" cy="93.8" r="4.1"/><rect x="230.5" y="90.2" width="46.8" height="8"/><circle cx="236.5" cy="92.3" r="2.5"/><circle cx="271.5" cy="92.3" r="2.5"/></g>
<rect x="312.3" y="58.5" width="75.6" height="60.2" fill="#0000fe"/>
<clipPath id="c312"><rect x="312.3" y="58.5" width="75.6" height="60.2"/></clipPath>
<g clip-path="url(#c312)" fill="#fe0000"><circle cx="350.2" cy="102" r="14.2"/><ellipse cx="333.2" cy="114.6" rx="7.4" ry="4.4"/><ellipse cx="367.3" cy="114.6" rx="7.4" ry="4.4"/><rect x="339.5" y="108" width="21.4" height="11"/></g>
<g fill="#999" opacity="0.6"><rect x="208.7" y="357.4" width="1" height="1"/><rect x="215.2" y="357" width="1.4" height="1"/><rect x="222" y="357" width="1.4" height="1"/></g>
<path d="M101.4 327.5v15.5M183.7 353v15.5M312.7 118.8v15.5M217.1 97.5v15.5" stroke="#e4e4e4" stroke-width="1" fill="none"/>
<g filter="url(#nf)">
<text x="138.6" y="348.7" font-family="Liberation Sans, sans-serif" font-size="16" text-anchor="middle" fill="#000">t=6mm</text>
<text x="221" y="376.4" font-family="Liberation Sans, sans-serif" font-size="16" text-anchor="middle" fill="#000">t=9mm</text>
<text x="255.5" y="115.6" font-family="Liberation Sans, sans-serif" font-size="16" text-anchor="middle" fill="#000">t=5mm</text>
<text x="349.8" y="139.5" font-family="Liberation Sans, sans-serif" font-size="16" text-anchor="middle" fill="#000">t=5mm</text>
</g>
<path transform="translate(1,2.6)" filter="url(#sh)" opacity="0.3" d="M209.8 67.2L151.0 74.4M151.0 74.4L157.0 70.4M151.0 74.4L157.8 76.9" stroke="#5070b8" stroke-width="2" fill="none"/>
<path d="M209.8 67.2L151.0 74.4M151.0 74.4L157.0 70.4M151.0 74.4L157.8 76.9" stroke="#111" stroke-width="1.1" fill="none" stroke-linecap="round"/>
<path transform="translate(1,2.6)" filter="url(#sh)" opacity="0.3" d="M306.8 114.6L151.7 126.5M151.7 126.5L157.8 122.8M151.7 126.5L158.3 129.3" stroke="#5070b8" stroke-width="2" fill="none"/>
<path d="M306.8 114.6L151.7 126.5M151.7 126.5L157.8 122.8M151.7 126.5L158.3 129.3" stroke="#111" stroke-width="1.1" fill="none" stroke-linecap="round"/>
<path transform="translate(1,2.6)" filter="url(#sh)" opacity="0.3" d="M136.9 267.5L159.8 196.2M159.8 196.2L161.0 203.3M159.8 196.2L154.7 201.3" stroke="#5070b8" stroke-width="2" fill="none"/>
<path d="M136.9 267.5L159.8 196.2M159.8 196.2L161.0 203.3M159.8 196.2L154.7 201.3" stroke="#111" stroke-width="1.1" fill="none" stroke-linecap="round"/>
<path transform="translate(1,2.6)" filter="url(#sh)" opacity="0.3" d="M222 292.8L211.6 236.8M211.6 236.8L216.0 242.5M211.6 236.8L209.6 243.7" stroke="#5070b8" stroke-width="2" fill="none"/>
<path d="M222 292.8L211.6 236.8M211.6 236.8L216.0 242.5M211.6 236.8L209.6 243.7" stroke="#111" stroke-width="1.1" fill="none" stroke-linecap="round"/>
<path d="M57.6 36.6H575.6" stroke="#000" stroke-width="2.6"/><path d="M57.6 398.95H575.6" stroke="#000" stroke-width="2.3"/><path d="M58.6 36V399" stroke="#000" stroke-width="1.9"/><path d="M574.5 36V399" stroke="#000" stroke-width="2.3"/>
<path d="M101.7 398.5v-3.3M144.7 398.5v-6.6M187.6 398.5v-3.3M230.6 398.5v-6.6M273.6 398.5v-3.3M316.6 398.5v-6.6M359.5 398.5v-3.3M402.5 398.5v-6.6M445.5 398.5v-3.3M488.4 398.5v-6.6M531.4 398.5v-3.3M59.2 353.8h3.5M59.2 308.5h7.0M59.2 263.2h3.5M59.2 218.0h7.0M59.2 172.8h3.5M59.2 127.5h7.0M59.2 82.2h3.5" stroke="#000" stroke-width="1.8" fill="none"/>
<rect x="433" y="36.5" width="141" height="101" fill="#fff" stroke="#666" stroke-width="1"/>
<path d="M574.5 36v104" stroke="#000" stroke-width="2.3"/>
<path d="M432 36.6h143.6" stroke="#000" stroke-width="2.6"/>
<rect x="452.1" y="43.2" width="5" height="4.2" fill="#000"/>
<ellipse cx="454.6" cy="66.0" rx="3" ry="2.6" fill="#f00"/>
<path d="M451.1 88.9L458.1 88.9L454.6 83.7Z" fill="#0f0"/>
<path d="M451.1 105.5L458.1 105.5L454.6 110.7Z" fill="#00f"/>
<path d="M451.3 128.0L454.6 125.0L457.9 128.0L454.6 131.0Z" fill="#0ff"/>
<g filter="url(#nf)">
<g transform="translate(487.5,51.75) scale(1.13,1)" font-family="Liberation Serif, serif" fill="#000"><text transform="translate(4.75,0) scale(0.62,1)" text-anchor="middle" font-size="19.0">V</text><text transform="translate(14.25,0) scale(0.8,1)" text-anchor="middle" font-size="19.0">=</text><text transform="translate(23.75,0) scale(1.0,1)" text-anchor="middle" font-size="19.0">0</text><text transform="translate(30.78,0) scale(1.0,1)" text-anchor="middle" font-size="19.0">.</text><text transform="translate(42.75,0) scale(1.0,1)" text-anchor="middle" font-size="19.0">2</text><text transform="translate(52.25,0) scale(0.64,1)" text-anchor="middle" font-size="19.0">m</text><path d="M57.76 2.28L65.74 -14.82" stroke="#000" stroke-width="0.85" fill="none"/><text transform="translate(71.25,0) scale(1.08,1)" text-anchor="middle" font-size="19.0">s</text></g>
<g transform="translate(487.5,72.55) scale(1.13,1)" font-family="Liberation Serif, serif" fill="#000"><text transform="translate(4.75,0) scale(0.62,1)" text-anchor="middle" font-size="19.0">V</text><text transform="translate(14.25,0) scale(0.8,1)" text-anchor="middle" font-size="19.0">=</text><text transform="translate(23.75,0) scale(1.0,1)" text-anchor="middle" font-size="19.0">0</text><text transform="translate(30.78,0) scale(1.0,1)" text-anchor="middle" font-size="19.0">.</text><text transform="translate(42.75,0) scale(1.0,1)" text-anchor="middle" font-size="19.0">3</text><text transform="translate(52.25,0) scale(0.64,1)" text-anchor="middle" font-size="19.0">m</text><path d="M57.76 2.28L65.74 -14.82" stroke="#000" stroke-width="0.85" fill="none"/><text transform="translate(71.25,0) scale(1.08,1)" text-anchor="middle" font-size="19.0">s</text></g>
<g transform="translate(487.5,93.35) scale(1.13,1)" font-family="Liberation Serif, serif" fill="#000"><text transform="translate(4.75,0) scale(0.62,1)" text-anchor="middle" font-size="19.0">V</text><text transform="translate(14.25,0) scale(0.8,1)" text-anchor="middle" font-size="19.0">=</text><text transform="translate(23.75,0) scale(1.0,1)" text-anchor="middle" font-size="19.0">0</text><text transform="translate(30.78,0) scale(1.0,1)" text-anchor="middle" font-size="19.0">.</text><text transform="translate(42.75,0) scale(1.0,1)" text-anchor="middle" font-size="19.0">4</text><text transform="translate(52.25,0) scale(0.64,1)" text-anchor="middle" font-size="19.0">m</text><path d="M57.76 2.28L65.74 -14.82" stroke="#000" stroke-width="0.85" fill="none"/><text transform="translate(71.25,0) scale(1.08,1)" text-anchor="middle" font-size="19.0">s</text></g>
<g transform="translate(487.5,114.15) scale(1.13,1)" font-family="Liberation Serif, serif" fill="#000"><text transform="translate(4.75,0) scale(0.62,1)" text-anchor="middle" font-size="19.0">V</text><text transform="translate(14.25,0) scale(0.8,1)" text-anchor="middle" font-size="19.0">=</text><text transform="translate(23.75,0) scale(1.0,1)" text-anchor="middle" font-size="19.0">0</text><text transform="translate(30.78,0) scale(1.0,1)" text-anchor="middle" font-size="19.0">.</text><text transform="translate(42.75,0) scale(1.0,1)" text-anchor="middle" font-size="19.0">6</text><text transform="translate(52.25,0) scale(0.64,1)" text-anchor="middle" font-size="19.0">m</text><path d="M57.76 2.28L65.74 -14.82" stroke="#000" stroke-width="0.85" fill="none"/><text transform="translate(71.25,0) scale(1.08,1)" text-anchor="middle" font-size="19.0">s</text></g>
<g transform="translate(487.5,134.95) scale(1.13,1)" font-family="Liberation Serif, serif" fill="#000"><text transform="translate(4.75,0) scale(0.62,1)" text-anchor="middle" font-size="19.0">V</text><text transform="translate(14.25,0) scale(0.8,1)" text-anchor="middle" font-size="19.0">=</text><text transform="translate(23.75,0) scale(1.0,1)" text-anchor="middle" font-size="19.0">0</text><text transform="translate(30.78,0) scale(1.0,1)" text-anchor="middle" font-size="19.0">.</text><text transform="translate(42.75,0) scale(1.0,1)" text-anchor="middle" font-size="19.0">8</text><text transform="translate(52.25,0) scale(0.64,1)" text-anchor="middle" font-size="19.0">m</text><path d="M57.76 2.28L65.74 -14.82" stroke="#000" stroke-width="0.85" fill="none"/><text transform="translate(71.25,0) scale(1.08,1)" text-anchor="middle" font-size="19.0">s</text></g>
<g transform="translate(289.6625,445.1) scale(1.13,1)" font-family="Liberation Serif, serif" fill="#000"><text transform="translate(4.75,0) scale(0.8,1)" text-anchor="middle" font-family="Liberation Mono, monospace" font-size="19.0">t</text><text transform="translate(15.96,-1.5) scale(1.05,1)" text-anchor="middle" font-size="19.0">(</text><text transform="translate(23.75,0) scale(0.64,1)" text-anchor="middle" font-size="19.0">m</text><text transform="translate(33.25,0) scale(1.08,1)" text-anchor="middle" font-size="19.0">s</text><text transform="translate(41.04,-1.5) scale(1.05,1)" text-anchor="middle" font-size="19.0">)</text></g>

<g transform="translate(15.2,236.5) scale(1.1639,1) rotate(-90)" font-family="Liberation Serif, serif" fill="#000"><text transform="translate(4.75,0) scale(0.66,1)" text-anchor="middle" font-size="19.0">D</text><path d="M10.26 2.28L18.24 -14.82" stroke="#000" stroke-width="0.85" fill="none"/><text transform="translate(23.75,0) scale(0.66,1)" text-anchor="middle" font-size="19.0">D</text><text transform="translate(33.25,0) scale(1.0,1)" text-anchor="middle" font-size="19.0">0</text></g>
<g transform="translate(54.321250000000006,420.4) scale(1.13,1)" font-family="Liberation Serif, serif" fill="#000"><text transform="translate(3.88,0) scale(1.0,1)" text-anchor="middle" font-size="15.5">0</text></g>
<g transform="translate(140.27125,420.4) scale(1.13,1)" font-family="Liberation Serif, serif" fill="#000"><text transform="translate(3.88,0) scale(1.0,1)" text-anchor="middle" font-size="15.5">5</text></g>
<g transform="translate(221.84250000000003,420.4) scale(1.13,1)" font-family="Liberation Serif, serif" fill="#000"><text transform="translate(3.88,0) scale(1.0,1)" text-anchor="middle" font-size="15.5">1</text><text transform="translate(11.62,0) scale(1.0,1)" text-anchor="middle" font-size="15.5">0</text></g>
<g transform="translate(307.7925,420.4) scale(1.13,1)" font-family="Liberation Serif, serif" fill="#000"><text transform="translate(3.88,0) scale(1.0,1)" text-anchor="middle" font-size="15.5">1</text><text transform="translate(11.62,0) scale(1.0,1)" text-anchor="middle" font-size="15.5">5</text></g>
<g transform="translate(393.7425,420.4) scale(1.13,1)" font-family="Liberation Serif, serif" fill="#000"><text transform="translate(3.88,0) scale(1.0,1)" text-anchor="middle" font-size="15.5">2</text><text transform="translate(11.62,0) scale(1.0,1)" text-anchor="middle" font-size="15.5">0</text></g>
<g transform="translate(479.69250000000005,420.4) scale(1.13,1)" font-family="Liberation Serif, serif" fill="#000"><text transform="translate(3.88,0) scale(1.0,1)" text-anchor="middle" font-size="15.5">2</text><text transform="translate(11.62,0) scale(1.0,1)" text-anchor="middle" font-size="15.5">5</text></g>
<g transform="translate(565.6425,420.4) scale(1.13,1)" font-family="Liberation Serif, serif" fill="#000"><text transform="translate(3.88,0) scale(1.0,1)" text-anchor="middle" font-size="15.5">3</text><text transform="translate(11.62,0) scale(1.0,1)" text-anchor="middle" font-size="15.5">0</text></g>
<g transform="translate(23.6,405.3) scale(1.13,1)" font-family="Liberation Serif, serif" fill="#000"><text transform="translate(3.88,0) scale(1.0,1)" text-anchor="middle" font-size="15.5">0</text><text transform="translate(9.61,0) scale(1.0,1)" text-anchor="middle" font-size="15.5">.</text><text transform="translate(19.38,0) scale(1.0,1)" text-anchor="middle" font-size="15.5">0</text></g>
<g transform="translate(23.6,314.8) scale(1.13,1)" font-family="Liberation Serif, serif" fill="#000"><text transform="translate(3.88,0) scale(1.0,1)" text-anchor="middle" font-size="15.5">0</text><text transform="translate(9.61,0) scale(1.0,1)" text-anchor="middle" font-size="15.5">.</text><text transform="translate(19.38,0) scale(1.0,1)" text-anchor="middle" font-size="15.5">5</text></g>
<g transform="translate(23.6,224.3) scale(1.13,1)" font-family="Liberation Serif, serif" fill="#000"><text transform="translate(3.88,0) scale(1.0,1)" text-anchor="middle" font-size="15.5">1</text><text transform="translate(9.61,0) scale(1.0,1)" text-anchor="middle" font-size="15.5">.</text><text transform="translate(19.38,0) scale(1.0,1)" text-anchor="middle" font-size="15.5">0</text></g>
<g transform="translate(23.6,133.8) scale(1.13,1)" font-family="Liberation Serif, serif" fill="#000"><text transform="translate(3.88,0) scale(1.0,1)" text-anchor="middle" font-size="15.5">1</text><text transform="translate(9.61,0) scale(1.0,1)" text-anchor="middle" font-size="15.5">.</text><text transform="translate(19.38,0) scale(1.0,1)" text-anchor="middle" font-size="15.5">5</text></g>
<g transform="translate(23.6,43.3) scale(1.13,1)" font-family="Liberation Serif, serif" fill="#000"><text transform="translate(3.88,0) scale(1.0,1)" text-anchor="middle" font-size="15.5">2</text><text transform="translate(9.61,0) scale(1.0,1)" text-anchor="middle" font-size="15.5">.</text><text transform="translate(19.38,0) scale(1.0,1)" text-anchor="middle" font-size="15.5">0</text></g>
</g>
</svg>
</body></html>
